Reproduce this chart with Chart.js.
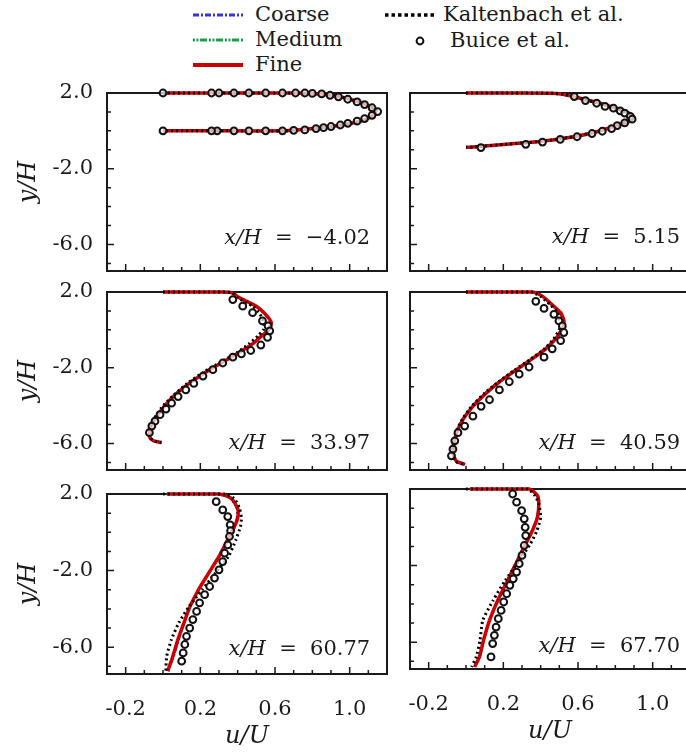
<!DOCTYPE html>
<html>
<head>
<meta charset="utf-8">
<script src="https://cdn.jsdelivr.net/npm/chart.js@4.4.1/dist/chart.umd.min.js"></script>
<style>
  html, body { margin: 0; padding: 0; background: #fff; width: 686px; height: 753px; overflow: hidden; position: relative; }
  canvas { position: absolute; }
  .leg { position: absolute; font: 21px "DejaVu Serif", serif; color: #1a1a1a; line-height: 25px; white-space: nowrap; }
  svg { position: absolute; left: 0; top: 0; }
</style>
</head>
<body>
<svg width="686" height="80">
  <line x1="193" y1="15" x2="243" y2="15" stroke="#3434e0" stroke-width="3" stroke-dasharray="6 2 2 2"/>
  <line x1="193" y1="40" x2="243" y2="40" stroke="#16a050" stroke-width="3" stroke-dasharray="2 1.5 2 1.5 7 2"/>
  <line x1="193" y1="65" x2="243" y2="65" stroke="#c80000" stroke-width="4"/>
  <line x1="385" y1="15" x2="435" y2="15" stroke="#000" stroke-width="3.5" stroke-dasharray="3.5 3"/>
  <circle cx="420" cy="41" r="3.4" fill="#fff" stroke="#111" stroke-width="2"/>
</svg>
<div class="leg" style="left:255px;top:2px">Coarse</div>
<div class="leg" style="left:255px;top:27px">Medium</div>
<div class="leg" style="left:255px;top:52px">Fine</div>
<div class="leg" style="left:443px;top:2px">Kaltenbach et al.</div>
<div class="leg" style="left:450px;top:28px">Buice et al.</div>

<script>
const X_MIN = -0.3, X_MAX = 1.2;
const Y_MIN = -7.4, Y_MAX = 2.0;
const xTickLabels = [-0.2, 0.2, 0.6, 1.0];
const yTickLabels = [2.0, -2.0, -6.0];
const xMinorTicks = [-0.2, -0.1, 0.0, 0.1, 0.2, 0.3, 0.4, 0.5, 0.6, 0.7, 0.8, 0.9, 1.0, 1.1];
const yMinorTicks = [1, 0, -1, -2, -3, -4, -5, -6, -7];
const stations = ["\u22124.02", "5.15", "33.97", "40.59", "60.77", "67.70"];

// x/H = -4.02
const p1Y =      [2.0, 2.0, 2.0, 1.98, 1.92, 1.84, 1.70, 1.55, 1.38, 1.20, 1.04, 0.88, 0.72, 0.55, 0.40, 0.26, 0.14, 0.05, 0.0, 0.0, 0.0];
const p1Coarse = [0.0, 0.40, 0.70, 0.79, 0.86, 0.92, 0.98, 1.035, 1.085, 1.12, 1.13, 1.125, 1.10, 1.06, 1.0, 0.91, 0.81, 0.71, 0.65, 0.35, 0.0];
const p1Medium = [0.0, 0.40, 0.70, 0.80, 0.87, 0.93, 0.99, 1.04, 1.09, 1.12, 1.135, 1.13, 1.10, 1.065, 1.01, 0.92, 0.82, 0.72, 0.65, 0.35, 0.0];
const p1Fine =   [0.0, 0.40, 0.70, 0.80, 0.87, 0.93, 0.99, 1.04, 1.09, 1.125, 1.14, 1.13, 1.11, 1.07, 1.01, 0.92, 0.82, 0.72, 0.65, 0.35, 0.0];
const p1Kalt =   [0.0, 0.40, 0.70, 0.80, 0.87, 0.93, 0.99, 1.045, 1.09, 1.13, 1.145, 1.135, 1.11, 1.07, 1.01, 0.92, 0.82, 0.72, 0.65, 0.35, 0.0];
const p1BuiceU = [0.0, 0.26, 0.30, 0.38, 0.46, 0.55, 0.64, 0.71, 0.76, 0.80, 0.85, 0.895, 0.94, 0.99, 1.04, 1.08, 1.12, 1.15, 1.12, 1.08, 1.04, 0.99, 0.95, 0.90, 0.86, 0.82, 0.76, 0.70, 0.64, 0.55, 0.46, 0.38, 0.29, 0.26, 0.0];
const p1BuiceY = [2.0, 2.0, 2.0, 2.0, 2.0, 2.0, 2.0, 2.0, 2.0, 1.98, 1.95, 1.88, 1.80, 1.67, 1.53, 1.39, 1.22, 1.02, 0.82, 0.65, 0.52, 0.40, 0.31, 0.23, 0.17, 0.12, 0.05, 0.03, 0.0, 0.0, 0.0, 0.0, 0.0, 0.0, 0.0];

// x/H = 5.15
const p2Y =      [2.0, 2.0, 1.99, 1.95, 1.85, 1.70, 1.53, 1.35, 1.15, 0.95, 0.72, 0.50, 0.28, 0.10, -0.10, -0.30, -0.48, -0.62, -0.72, -0.80, -0.85, -0.87];
const p2Coarse = [0.0, 0.30, 0.45, 0.51, 0.56, 0.615, 0.685, 0.745, 0.815, 0.865, 0.895, 0.865, 0.805, 0.745, 0.675, 0.58, 0.46, 0.33, 0.20, 0.10, 0.04, 0.0];
const p2Medium = [0.0, 0.30, 0.45, 0.51, 0.56, 0.62, 0.69, 0.75, 0.82, 0.87, 0.90, 0.87, 0.81, 0.75, 0.68, 0.585, 0.46, 0.33, 0.20, 0.10, 0.04, 0.0];
const p2Fine =   [0.0, 0.30, 0.45, 0.51, 0.56, 0.62, 0.69, 0.755, 0.82, 0.87, 0.90, 0.875, 0.81, 0.75, 0.68, 0.585, 0.465, 0.33, 0.20, 0.10, 0.04, 0.0];
const p2Kalt =   [0.0, 0.30, 0.45, 0.51, 0.56, 0.615, 0.685, 0.75, 0.815, 0.865, 0.89, 0.865, 0.80, 0.745, 0.675, 0.58, 0.46, 0.33, 0.20, 0.10, 0.04, 0.0];
const p2BuiceU = [0.58, 0.64, 0.70, 0.745, 0.79, 0.826, 0.85, 0.88, 0.89, 0.85, 0.81, 0.78, 0.73, 0.675, 0.595, 0.505, 0.41, 0.32, 0.08];
const p2BuiceY = [1.81, 1.60, 1.46, 1.29, 1.20, 1.06, 0.94, 0.77, 0.62, 0.42, 0.28, 0.12, -0.02, -0.14, -0.31, -0.45, -0.59, -0.71, -0.88];

// x/H = 33.97
const p3Y =      [2.0, 2.0, 1.95, 1.69, 1.25, 0.82, 0.39, 0.04, -0.31, -0.74, -1.18, -1.70, -2.22, -2.83, -3.52, -4.13, -4.73, -5.26, -5.69, -5.86, -5.95];
const p3Coarse = [0.0, 0.32, 0.37, 0.41, 0.495, 0.545, 0.575, 0.565, 0.525, 0.475, 0.405, 0.315, 0.225, 0.135, 0.05, -0.005, -0.048, -0.075, -0.072, -0.05, -0.007];
const p3Medium = [0.0, 0.32, 0.37, 0.41, 0.50, 0.55, 0.58, 0.57, 0.53, 0.48, 0.41, 0.32, 0.23, 0.14, 0.055, 0.0, -0.045, -0.072, -0.07, -0.05, -0.007];
const p3Fine =   [0.0, 0.32, 0.37, 0.41, 0.50, 0.55, 0.58, 0.57, 0.53, 0.48, 0.41, 0.32, 0.23, 0.14, 0.055, 0.0, -0.043, -0.07, -0.07, -0.05, -0.007];
const p3Kalt =   [0.0, 0.32, 0.37, 0.40, 0.48, 0.52, 0.54, 0.54, 0.51, 0.46, 0.40, 0.31, 0.22, 0.13, 0.05, -0.01, -0.05, -0.075, -0.07, -0.05, -0.01];
const p3BuiceU = [0.374, 0.427, 0.48, 0.533, 0.563, 0.572, 0.56, 0.524, 0.47, 0.42, 0.374, 0.32, 0.267, 0.214, 0.165, 0.122, 0.081, 0.046, 0.016, -0.016, -0.043, -0.06, -0.073];
const p3BuiceY = [1.60, 1.25, 0.91, 0.47, 0.21, -0.05, -0.40, -0.80, -1.09, -1.27, -1.44, -1.75, -2.10, -2.44, -2.83, -3.17, -3.52, -3.87, -4.18, -4.48, -4.82, -5.08, -5.43];

// x/H = 40.59
const p4Y =      [2.0, 2.0, 1.77, 1.34, 0.91, 0.47, 0.04, -0.48, -1.00, -1.52, -2.13, -2.74, -3.34, -4.04, -4.73, -5.43, -6.13, -6.65, -6.95, -7.10];
const p4Coarse = [0.0, 0.356, 0.41, 0.455, 0.50, 0.52, 0.51, 0.475, 0.42, 0.35, 0.26, 0.175, 0.103, 0.033, -0.02, -0.053, -0.068, -0.066, -0.05, -0.005];
const p4Medium = [0.0, 0.356, 0.41, 0.46, 0.505, 0.523, 0.514, 0.478, 0.425, 0.354, 0.265, 0.178, 0.106, 0.035, -0.018, -0.05, -0.066, -0.066, -0.05, -0.005];
const p4Fine =   [0.0, 0.356, 0.41, 0.46, 0.507, 0.525, 0.516, 0.48, 0.427, 0.356, 0.267, 0.18, 0.108, 0.037, -0.016, -0.05, -0.066, -0.066, -0.05, -0.005];
const p4Kalt =   [0.0, 0.35, 0.40, 0.45, 0.49, 0.50, 0.50, 0.47, 0.42, 0.35, 0.26, 0.175, 0.10, 0.03, -0.02, -0.055, -0.07, -0.07, -0.055, -0.01];
const p4BuiceU = [0.374, 0.418, 0.471, 0.498, 0.516, 0.524, 0.507, 0.462, 0.418, 0.338, 0.285, 0.232, 0.179, 0.126, 0.081, 0.037, -0.007, -0.043, -0.06, -0.07, -0.078];
const p4BuiceY = [1.51, 1.13, 0.82, 0.47, 0.21, -0.14, -0.57, -1.00, -1.44, -1.96, -2.34, -2.74, -3.17, -3.69, -4.04, -4.56, -5.08, -5.43, -5.86, -6.30, -6.65];

// x/H = 60.77
const p5Y =      [2.0, 2.0, 1.77, 1.25, 0.73, 0.30, -0.40, -1.27, -2.13, -3.0, -3.87, -4.73, -5.6, -6.47, -7.25];
const p5Coarse = [0.02, 0.30, 0.36, 0.395, 0.395, 0.378, 0.342, 0.295, 0.242, 0.19, 0.147, 0.115, 0.085, 0.058, 0.03];
const p5Medium = [0.02, 0.30, 0.365, 0.40, 0.40, 0.383, 0.346, 0.30, 0.244, 0.19, 0.145, 0.113, 0.081, 0.054, 0.026];
const p5Fine =   [0.02, 0.30, 0.365, 0.40, 0.40, 0.383, 0.347, 0.30, 0.245, 0.19, 0.145, 0.112, 0.08, 0.053, 0.025];
const p5Kalt =   [0.0, 0.33, 0.38, 0.41, 0.42, 0.415, 0.39, 0.35, 0.28, 0.21, 0.14, 0.085, 0.045, 0.02, 0.015];
const p5BuiceU = [0.285, 0.32, 0.347, 0.36, 0.362, 0.356, 0.347, 0.33, 0.32, 0.30, 0.276, 0.25, 0.223, 0.196, 0.18, 0.16, 0.143, 0.126, 0.117, 0.108, 0.10];
const p5BuiceY = [1.60, 1.17, 0.82, 0.39, 0.08, -0.22, -0.66, -1.09, -1.53, -1.96, -2.39, -2.83, -3.26, -3.69, -4.13, -4.56, -5.0, -5.43, -5.86, -6.30, -6.73];

// x/H = 67.70
const p6Y =      [2.0, 2.0, 1.65, 1.22, 0.53, -0.17, -0.86, -1.73, -2.78, -3.82, -4.86, -5.90, -6.77, -7.29];
const p6Coarse = [0.02, 0.34, 0.38, 0.388, 0.38, 0.352, 0.316, 0.272, 0.22, 0.168, 0.125, 0.094, 0.074, 0.048];
const p6Medium = [0.02, 0.34, 0.383, 0.392, 0.385, 0.357, 0.32, 0.275, 0.222, 0.17, 0.126, 0.093, 0.072, 0.046];
const p6Fine =   [0.02, 0.34, 0.383, 0.39, 0.383, 0.356, 0.32, 0.276, 0.223, 0.17, 0.126, 0.094, 0.072, 0.046];
const p6Kalt =   [0.0, 0.33, 0.37, 0.39, 0.40, 0.38, 0.345, 0.285, 0.21, 0.145, 0.09, 0.075, 0.055, 0.03];
const p6BuiceU = [0.25, 0.271, 0.298, 0.312, 0.317, 0.32, 0.312, 0.30, 0.285, 0.271, 0.253, 0.235, 0.218, 0.202, 0.188, 0.173, 0.161, 0.152, 0.143, 0.134];
const p6BuiceY = [1.74, 1.31, 0.87, 0.44, 0.0, -0.43, -0.95, -1.47, -1.90, -2.34, -2.69, -3.03, -3.47, -3.90, -4.34, -4.77, -5.21, -5.64, -6.07, -6.77];

const panelData = [
  { y: p1Y, coarse: p1Coarse, medium: p1Medium, fine: p1Fine, kalt: p1Kalt, bu: p1BuiceU, by: p1BuiceY },
  { y: p2Y, coarse: p2Coarse, medium: p2Medium, fine: p2Fine, kalt: p2Kalt, bu: p2BuiceU, by: p2BuiceY },
  { y: p3Y, coarse: p3Coarse, medium: p3Medium, fine: p3Fine, kalt: p3Kalt, bu: p3BuiceU, by: p3BuiceY },
  { y: p4Y, coarse: p4Coarse, medium: p4Medium, fine: p4Fine, kalt: p4Kalt, bu: p4BuiceU, by: p4BuiceY },
  { y: p5Y, coarse: p5Coarse, medium: p5Medium, fine: p5Fine, kalt: p5Kalt, bu: p5BuiceU, by: p5BuiceY },
  { y: p6Y, coarse: p6Coarse, medium: p6Medium, fine: p6Fine, kalt: p6Kalt, bu: p6BuiceU, by: p6BuiceY }
];

// where each panel's plot box sits on the page
const PANEL_W = 282, PANEL_H = 180;
const colLeft = [107, 410];
const colAxisW = [107, 20];
const panelLayout = [
  { col: 0, top: 93, bottomRow: false, labelX: 1.11, labelY: -5.68 },
  { col: 1, top: 93, bottomRow: false, labelX: 1.147, labelY: -5.62 },
  { col: 0, top: 292, bottomRow: false, labelX: 1.11, labelY: -6.0 },
  { col: 1, top: 292, bottomRow: false, labelX: 1.147, labelY: -6.0 },
  { col: 0, top: 494, bottomRow: true, labelX: 1.11, labelY: -6.1 },
  { col: 1, top: 489, bottomRow: true, labelX: 1.147, labelY: -6.22 }
];

const INK = "#1a1a1a";
const tickFont = { family: "'DejaVu Serif', serif", size: 21 };
const titleFont = { family: "'DejaVu Serif', serif", size: 24, style: "italic" };

const framePlugin = {
  id: "frame",
  beforeDatasetsDraw(chart) {
    const { ctx, chartArea: a, scales: { x, y } } = chart;
    ctx.save();
    ctx.strokeStyle = INK;
    ctx.lineWidth = 2;
    ctx.strokeRect(a.left, a.top, a.right - a.left, a.bottom - a.top);
    ctx.lineWidth = 1.5;
    ctx.beginPath();
    xMinorTicks.forEach((v) => {
      const px = x.getPixelForValue(v);
      const len = xTickLabels.includes(v) ? 7 : 4;
      ctx.moveTo(px, a.bottom);
      ctx.lineTo(px, a.bottom - len);
    });
    yMinorTicks.forEach((v) => {
      const py = y.getPixelForValue(v);
      const len = yTickLabels.includes(v) ? 7 : 4;
      ctx.moveTo(a.left, py);
      ctx.lineTo(a.left + len, py);
    });
    ctx.stroke();
    ctx.restore();
  },
  afterDraw(chart, args, opts) {
    const { ctx, scales: { x, y } } = chart;
    const right = x.getPixelForValue(opts.labelX);
    const mid = y.getPixelForValue(opts.labelY);
    ctx.save();
    ctx.fillStyle = INK;
    ctx.textBaseline = "middle";
    ctx.textAlign = "left";
    ctx.font = "21px 'DejaVu Serif'";
    const rest = "  =  " + opts.label;
    const wRest = ctx.measureText(rest).width;
    ctx.font = "italic 21px 'DejaVu Serif'";
    const head = "x/H";
    const wHead = ctx.measureText(head).width;
    ctx.fillText(head, right - wRest - wHead, mid);
    ctx.font = "21px 'DejaVu Serif'";
    ctx.fillText(rest, right - wRest, mid);
    ctx.restore();
  }
};

function pts(us, ys) {
  return ys.map((v, i) => ({ x: us[i], y: v }));
}

function lineSet(label, us, ys, color, width, dash, order) {
  return {
    label,
    data: pts(us, ys),
    showLine: true,
    borderColor: color,
    borderWidth: width,
    borderDash: dash,
    pointRadius: 0,
    tension: 0.2,
    clip: false,
    order
  };
}

// keep tick labels from pushing the plot box around
function noPad(s) {
  s.paddingTop = 0;
  s.paddingBottom = 0;
  s.paddingLeft = 0;
  s.paddingRight = 0;
}

function makePanel(i) {
  const L = panelLayout[i];
  const d = panelData[i];
  const axisW = colAxisW[L.col];
  const padTop = 20;
  const bottomH = L.bottomRow ? 79 : 4;
  const canvas = document.createElement("canvas");
  canvas.width = axisW + PANEL_W + 4;
  canvas.height = padTop + PANEL_H + bottomH;
  canvas.style.left = (colLeft[L.col] - axisW) + "px";
  canvas.style.top = (L.top - padTop) + "px";
  document.body.appendChild(canvas);

  new Chart(canvas, {
    type: "scatter",
    data: {
      datasets: [
        lineSet("Coarse", d.coarse, d.y, "#3434e0", 2, [6, 2, 2, 2], 4),
        lineSet("Medium", d.medium, d.y, "#16a050", 2, [5, 2, 1.5, 2, 1.5, 2], 3),
        lineSet("Fine", d.fine, d.y, "#cc0000", 3.5, [], 2),
        lineSet("Kaltenbach et al.", d.kalt, d.y, "#000000", 3, [2, 3], 1),
        {
          label: "Buice et al.",
          data: pts(d.bu, d.by),
          showLine: false,
          pointStyle: "circle",
          pointRadius: 3.4,
          pointBorderWidth: 2,
          pointBorderColor: "#111",
          pointBackgroundColor: "rgba(255,255,255,0.7)",
          clip: false,
          order: 0
        }
      ]
    },
    options: {
      responsive: false,
      animation: false,
      devicePixelRatio: 1,
      layout: { padding: { top: padTop, right: 4, left: 0, bottom: 0 } },
      plugins: {
        legend: { display: false },
        tooltip: { enabled: false },
        frame: { label: stations[i], labelX: L.labelX, labelY: L.labelY }
      },
      scales: {
        x: {
          type: "linear",
          min: X_MIN,
          max: X_MAX,
          grid: { display: false, drawTicks: false },
          border: { display: false },
          afterBuildTicks: (s) => { s.ticks = xTickLabels.map((v) => ({ value: v })); },
          afterFit: (s) => { s.height = bottomH; noPad(s); },
          ticks: { display: L.bottomRow, padding: 23, font: tickFont, color: INK, callback: (v) => v.toFixed(1) },
          title: { display: L.bottomRow, text: "u/U", font: titleFont, color: INK, padding: { top: 0, bottom: 2 } }
        },
        y: {
          type: "linear",
          min: Y_MIN,
          max: Y_MAX,
          grid: { display: false, drawTicks: false },
          border: { display: false },
          afterBuildTicks: (s) => { s.ticks = yTickLabels.map((v) => ({ value: v })); },
          afterFit: (s) => { s.width = axisW; noPad(s); },
          ticks: { display: L.col === 0, padding: 14, font: tickFont, color: INK, callback: (v) => v.toFixed(1) },
          title: { display: L.col === 0, text: "y/H", font: titleFont, color: INK, padding: { top: 14, bottom: 0 } }
        }
      }
    },
    plugins: [framePlugin]
  });
}

for (let i = 0; i < 6; i++) makePanel(i);
</script>
</body>
</html>
